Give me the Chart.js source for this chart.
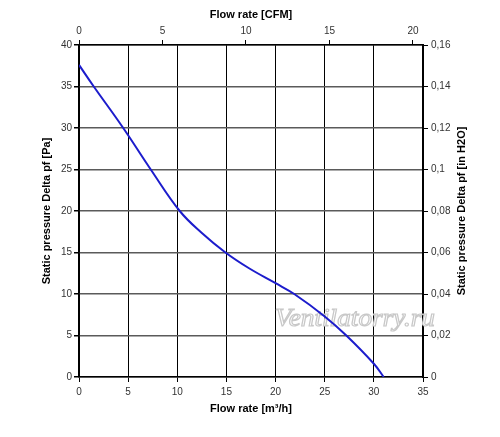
<!DOCTYPE html>
<html>
<head>
<meta charset="utf-8">
<script src="https://cdn.jsdelivr.net/npm/chart.js@4"></script>
<style>
  html, body { margin: 0; padding: 0; background: #fff; }
  #wrap { width: 500px; height: 437px; }
</style>
</head>
<body>
<div id="wrap"><canvas id="myChart" width="500" height="437"></canvas></div>
<script>
// flow rate in m³/h and static pressure in Pa
const flowRate = [0, 1.5, 4.5, 7.3, 10.25, 12.5, 14.9, 17.3, 20, 21.9, 25, 27.2, 30, 31];
const pressure = [37.6, 35, 30, 25, 20, 17.35, 15, 13.1, 11.3, 10, 7.3, 5, 1.6, 0];
const cfmTicks = [0, 5, 10, 15, 20];

const cfmPerM3h = 1 / 1.699;
const flowMax   = 35;
const paMax     = 40;
const inH2OMax  = 0.16;

const tickFont  = { family: "Liberation Sans, Arial, sans-serif", size: 10 };
const titleFont = { family: "Liberation Sans, Arial, sans-serif", size: 11, weight: "bold" };

const comma = v => String(Math.round(v * 1000) / 1000).replace(".", ",");

// watermark under the curve, and the right axis title read bottom-to-top
const extras = {
  id: "extras",
  beforeDatasetsDraw(chart) {
    const ctx = chart.ctx;
    ctx.save();
    ctx.font = "italic 26px 'Liberation Serif', serif";
    const text = "Ventilatorry.ru";
    const w = ctx.measureText(text).width;
    ctx.translate(275, 326);
    ctx.scale(160 / w, 1);
    ctx.lineWidth = 1.2;
    ctx.strokeStyle = "#c8c8c8";
    ctx.fillStyle = "#ffffff";
    ctx.fillText(text, 0, 0);
    ctx.strokeText(text, 0, 0);
    ctx.restore();
  },
  afterDraw(chart) {
    const ctx = chart.ctx;
    const a = chart.chartArea;
    ctx.save();
    ctx.font = "bold 11px 'Liberation Sans', Arial, sans-serif";
    ctx.fillStyle = "#000";
    ctx.textAlign = "center";
    ctx.textBaseline = "middle";
    ctx.translate(462, (a.top + a.bottom) / 2);
    ctx.rotate(-Math.PI / 2);
    ctx.fillText("Static pressure Delta pf [in H2O]", 0, 0);
    ctx.restore();
  }
};

const data = flowRate.map((x, i) => ({ x: x, y: pressure[i] }));

new Chart(document.getElementById("myChart"), {
  type: "line",
  data: {
    datasets: [{
      data: data,
      borderColor: "#1c1ccc",
      borderWidth: 2,
      pointRadius: 0,
      tension: 0.4,
      xAxisID: "x",
      yAxisID: "y"
    }]
  },
  options: {
    responsive: false,
    animation: false,
    plugins: { legend: { display: false }, tooltip: { enabled: false } },
    scales: {
      x: {
        type: "linear", position: "bottom", min: 0, max: flowMax,
        ticks: { stepSize: 5, color: "#333", font: tickFont, padding: 4 },
        grid: { color: "#000", lineWidth: 1, tickColor: "#000", tickLength: 5 },
        border: { color: "#000", width: 1.5 },
        title: { display: true, text: "Flow rate [m³/h]", color: "#000", font: titleFont, padding: { top: 0, bottom: 21 } },
        afterFit: s => { s.height = 60; }
      },
      x2: {
        type: "linear", position: "top", min: 0, max: flowMax * cfmPerM3h,
        ticks: { color: "#333", font: tickFont, padding: 3 },
        grid: { drawOnChartArea: false, tickColor: "#000", tickLength: 5 },
        border: { color: "#000", width: 1.5 },
        title: { display: true, text: "Flow rate [CFM]", color: "#000", font: titleFont, padding: { top: 8, bottom: 0 } },
        afterBuildTicks: s => { s.ticks = cfmTicks.map(v => ({ value: v })); },
        afterFit: s => { s.height = 45; }
      },
      y: {
        type: "linear", position: "left", min: 0, max: paMax,
        ticks: { stepSize: 5, color: "#333", font: tickFont, padding: 2 },
        grid: { color: "#5a5a5a", lineWidth: 1.5, tickColor: "#000", tickLength: 5 },
        border: { color: "#000", width: 1.5 },
        title: { display: true, text: "Static pressure Delta pf [Pa]", color: "#000", font: titleFont, padding: { top: 40, bottom: 0 } },
        afterFit: s => { s.width = 79; }
      },
      y2: {
        type: "linear", position: "right", min: 0, max: inH2OMax,
        ticks: { stepSize: 0.02, color: "#333", font: tickFont, padding: 3, callback: v => comma(v) },
        grid: { drawOnChartArea: false, tickColor: "#000", tickLength: 5 },
        border: { color: "#000", width: 1.5 },
        afterFit: s => { s.width = 77; }
      }
    }
  },
  plugins: [extras]
});
</script>
</body>
</html>
